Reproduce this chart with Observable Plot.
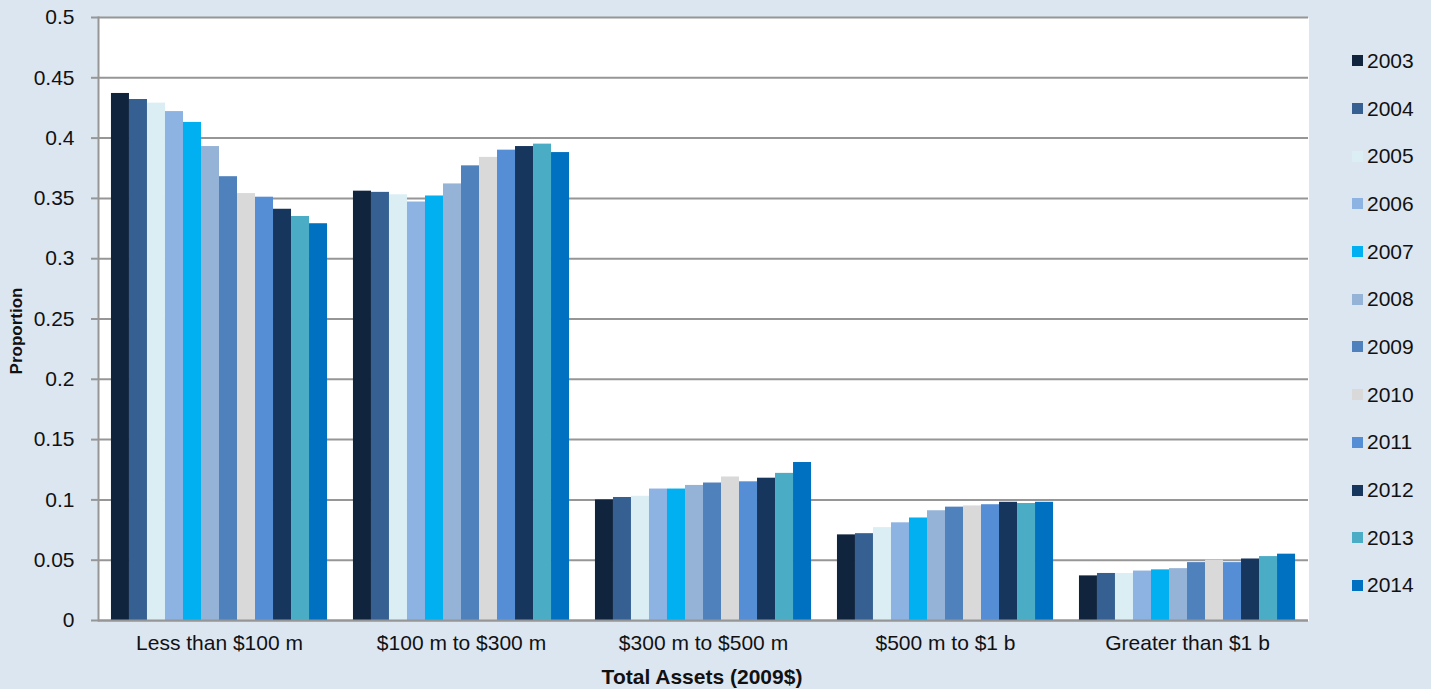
<!DOCTYPE html>
<html>
<head>
<meta charset="utf-8">
<script src="https://cdn.jsdelivr.net/npm/d3@7"></script>
<script src="https://cdn.jsdelivr.net/npm/@observablehq/plot@0.6"></script>
<style>
  body { margin: 0; background: #dce6f1; font-family: "Liberation Sans", Arial, sans-serif; }
  #chart { position: relative; width: 1431px; height: 689px; }
  #legend { position: absolute; left: 1352px; top: 37px; }
  .item { display: flex; align-items: center; height: 47.7px; font-size: 21px; color: #111; }
  .sw { width: 11px; height: 11px; margin-right: 4px; flex: none; }
  .ytitle { position: absolute; left: 17px; top: 331px; transform: translate(-50%, -50%) rotate(-90deg);
            font-weight: bold; font-size: 17px; color: #111; white-space: nowrap; }
  .xtitle { position: absolute; left: 702px; top: 677px; transform: translate(-50%, -50%);
            font-weight: bold; font-size: 21px; color: #111; white-space: nowrap; }
</style>
</head>
<body>
<div id="chart"></div>
<script>
// Asset-size classes on the x axis
const categories = ["Less than $100 m", "$100 m to $300 m", "$300 m to $500 m", "$500 m to $1 b", "Greater than $1 b"];
const years = ["2003", "2004", "2005", "2006", "2007", "2008", "2009", "2010", "2011", "2012", "2013", "2014"];
const yearColors = ["#10243e", "#366092", "#dbeef4", "#8db3e2", "#00b0f0", "#95b3d7",
                    "#4f81bd", "#d9d9d9", "#558ed5", "#17365d", "#4bacc6", "#0070c0"];

// Proportion of institutions in each class, 2003 → 2014
const lessThan100m = [0.437, 0.432, 0.429, 0.422, 0.413, 0.393, 0.368, 0.354, 0.351, 0.341, 0.335, 0.329];
const from100to300m = [0.356, 0.355, 0.353, 0.347, 0.352, 0.362, 0.377, 0.384, 0.390, 0.393, 0.395, 0.388];
const from300to500m = [0.100, 0.102, 0.103, 0.109, 0.109, 0.112, 0.114, 0.119, 0.115, 0.118, 0.122, 0.131];
const from500mTo1b = [0.071, 0.072, 0.077, 0.081, 0.085, 0.091, 0.094, 0.095, 0.096, 0.098, 0.097, 0.098];
const greaterThan1b = [0.037, 0.039, 0.039, 0.041, 0.042, 0.043, 0.048, 0.050, 0.048, 0.051, 0.053, 0.055];

const yTicks = [0, 0.05, 0.1, 0.15, 0.2, 0.25, 0.3, 0.35, 0.4, 0.45, 0.5];

const series = [lessThan100m, from100to300m, from300to500m, from500mTo1b, greaterThan1b];
const rows = categories.flatMap((category, i) =>
  years.map((year, j) => ({category, year, value: series[i][j]}))
);

const gridColor = "#969696";

const chart = Plot.plot({
  width: 1431,
  height: 689,
  marginTop: 17,
  marginBottom: 69,
  marginLeft: 98,
  marginRight: 123,
  style: {background: "transparent", fontFamily: "'Liberation Sans', Arial, sans-serif", fontSize: "21px", color: "#111"},
  fx: {domain: categories, padding: 0, round: false, label: null},
  x: {domain: years, paddingInner: 0, paddingOuter: 0.72, round: false, axis: null},
  y: {domain: [0, 0.5], label: null},
  color: {domain: years, range: yearColors},
  marks: [
    Plot.frame({fill: "white", stroke: null, shapeRendering: "crispEdges"}),
    Plot.ruleY(yTicks, {stroke: gridColor, strokeWidth: 2}),
    Plot.barY(rows, {fx: "category", x: "year", y: "value", fill: "year", inset: 0}),
    Plot.ruleY([0], {stroke: gridColor, strokeWidth: 2}),
    Plot.frame({anchor: "left", facetAnchor: "left", stroke: gridColor, strokeWidth: 2}),
    Plot.axisY({
      ticks: yTicks,
      tickFormat: d => (d === 0 ? "0" : String(+d.toFixed(2))),
      tickSize: 7,
      tickPadding: 17,
      stroke: gridColor,
      strokeWidth: 2,
      strokeOpacity: 1,
      label: null
    }),
    Plot.axisFx({anchor: "bottom", tickSize: 0, tickPadding: 15, label: null})
  ]
});

const host = document.getElementById("chart");
host.appendChild(chart);

// Legend: one swatch per year
const legend = document.createElement("div");
legend.id = "legend";
years.forEach((y, i) => {
  const item = document.createElement("div");
  item.className = "item";
  const sw = document.createElement("span");
  sw.className = "sw";
  sw.style.background = yearColors[i];
  const label = document.createElement("span");
  label.textContent = y;
  item.append(sw, label);
  legend.appendChild(item);
});
host.appendChild(legend);

const yTitle = document.createElement("div");
yTitle.className = "ytitle";
yTitle.textContent = "Proportion";
host.appendChild(yTitle);

const xTitle = document.createElement("div");
xTitle.className = "xtitle";
xTitle.textContent = "Total Assets (2009$)";
host.appendChild(xTitle);
</script>
</body>
</html>
